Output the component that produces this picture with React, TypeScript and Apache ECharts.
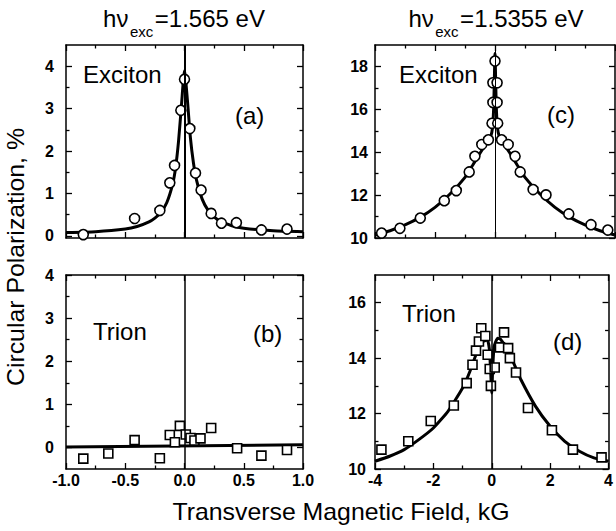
import React, { useEffect, useRef } from 'react';
import * as echarts from 'echarts';

const FONT = '"Liberation Sans", Arial, Helvetica, sans-serif';

// ---------- Panel (a): Exciton, hv = 1.565 eV ----------
const aX = [-0.854, -0.421, -0.208, -0.124, -0.084, -0.031, 0, 0.045, 0.093, 0.14, 0.225, 0.312, 0.438, 0.649, 0.865];
const aY = [0.03, 0.41, 0.6, 1.25, 1.66, 2.96, 3.69, 2.53, 1.48, 1.08, 0.53, 0.3, 0.31, 0.14, 0.16];
const aFitX = [-1, -0.75, -0.5, -0.4, -0.3, -0.25, -0.2, -0.15, -0.1, -0.075, -0.05, -0.025, 0, 0.025, 0.05, 0.075, 0.1, 0.15, 0.2, 0.25, 0.3, 0.4, 0.5, 0.75, 1];
const aFitY = [0.08, 0.1, 0.16, 0.22, 0.33, 0.42, 0.55, 0.78, 1.22, 1.61, 2.24, 3.1, 3.9, 3.18, 2.31, 1.73, 1.33, 0.86, 0.6, 0.45, 0.35, 0.24, 0.18, 0.12, 0.1];

// ---------- Panel (b): Trion, hv = 1.565 eV ----------
const bX = [-0.854, -0.643, -0.421, -0.208, -0.124, -0.081, -0.039, 0.011, 0.051, 0.084, 0.135, 0.225, 0.444, 0.649, 0.865];
const bY = [-0.26, -0.14, 0.17, -0.25, 0.29, 0.12, 0.5, 0.3, 0.22, 0.16, 0.21, 0.45, -0.02, -0.19, -0.06];
const bFitX = [-1, 1];
const bFitY = [0.01, 0.06];

// ---------- Panel (c): Exciton, hv = 1.5355 eV ----------
const cX = [-3.78, -3.17, -2.49, -1.69, -1.29, -0.86, -0.67, -0.44, -0.22, -0.1, -0.07, -0.07, 0, 0.07, 0.07, 0.09, 0.22, 0.44, 0.67, 0.84, 1.27, 1.7, 2.46, 3.2, 3.76];
const cY = [10.23, 10.45, 10.93, 11.74, 12.21, 13.08, 13.81, 14.36, 14.58, 15.35, 16.32, 17.24, 18.25, 17.24, 16.32, 15.35, 14.58, 14.36, 13.81, 13.08, 12.26, 12.01, 11.12, 10.62, 10.37];
const cFitX = [-4, -3.5, -3, -2.5, -2, -1.5, -1, -0.75, -0.5, -0.3, -0.15, -0.08, -0.04, 0, 0.04, 0.08, 0.15, 0.3, 0.5, 0.75, 1, 1.5, 2, 2.5, 3, 3.5, 4];
const cFitY = [10.14, 10.34, 10.61, 10.96, 11.43, 12.05, 12.83, 13.38, 13.95, 14.39, 14.7, 15.17, 16.26, 18.6, 16.26, 15.17, 14.7, 14.39, 13.95, 13.38, 12.83, 12.05, 11.43, 10.96, 10.61, 10.34, 10.14];

// ---------- Panel (d): Trion, hv = 1.5355 eV ----------
const dX = [-3.78, -2.86, -2.09, -1.3, -0.86, -0.66, -0.54, -0.44, -0.36, -0.22, -0.14, -0.07, -0.03, 0.1, 0.28, 0.42, 0.56, 0.62, 0.83, 1.24, 2.06, 2.78, 3.76];
const dY = [10.7, 11.0, 11.73, 12.29, 13.1, 13.76, 14.27, 14.6, 15.08, 14.8, 14.12, 13.61, 13.0, 13.66, 14.39, 14.93, 14.36, 14.0, 13.48, 12.2, 11.4, 10.7, 10.42];
const dFitX = [-4, -3.5, -3, -2.5, -2, -1.5, -1, -0.75, -0.5, -0.3, -0.15, -0.08, -0.03, 0, 0.03, 0.08, 0.2, 0.3, 0.5, 0.75, 1, 1.5, 2, 2.5, 3, 3.5, 4];
const dFitY = [10.28, 10.46, 10.7, 11.06, 11.48, 12.08, 12.92, 13.52, 14.24, 14.6, 14.66, 14.3, 13.34, 12.74, 13.58, 14.42, 14.72, 14.68, 14.36, 13.82, 13.22, 12.26, 11.54, 11.0, 10.64, 10.4, 10.28];

// ---------- Ticks ----------
const smallXMajor = [-1, -0.5, 0, 0.5, 1];
const smallXMinor = [-0.75, -0.25, 0.25, 0.75];
const bigXMajor = [-4, -2, 0, 2, 4];
const bigXMinor = [-3, -1, 1, 3];
const abYMajor = [0, 1, 2, 3, 4];
const abYMinor = [0.5, 1.5, 2.5, 3.5];
const cYMajor = [10, 12, 14, 16, 18];
const cYMinor = [11, 13, 15, 17];
const dYMajor = [10, 12, 14, 16];
const dYMinor = [11, 13, 15];

const titles = [
  { main: 'hν', sub: 'exc', rest: '=1.565 eV' },
  { main: 'hν', sub: 'exc', rest: '=1.5355 eV' },
];

function measure(text: string, size: number, weight = 'normal') {
  const c = document.createElement('canvas').getContext('2d')!;
  c.font = `${weight} ${size}px ${FONT}`;
  return c.measureText(text).width;
}

export default function App() {
  const ref = useRef<HTMLDivElement>(null);
  useEffect(() => {
    const chart = echarts.init(ref.current!, null, { renderer: 'svg' });

    const grids = [
      { left: 66, top: 45, width: 237, height: 193 },
      { left: 66, top: 275, width: 237, height: 194 },
      { left: 375, top: 45, width: 240, height: 193 },
      { left: 375, top: 275, width: 240, height: 194 },
    ];

    const xAxes: any[] = [];
    const yAxes: any[] = [];

    const addAxes = (
      list: any[], gridIndex: number, isX: boolean, min: number, max: number,
      majors: number[], minors: number[], labels: number[] | null,
      fmt: (v: number) => string, margin: number
    ) => {
      const mainIdx = list.length;
      const posA = isX ? 'bottom' : 'left';
      const posB = isX ? 'top' : 'right';
      const mk = (pos: string, ticks: number[], len: number, showLine: boolean, lab: number[] | null) => ({
        type: 'value', gridIndex, min, max, position: pos,
        axisLine: { show: showLine, onZero: false, lineStyle: { color: '#000', width: 1.5 } },
        axisTick: { show: true, inside: true, length: len, customValues: ticks, lineStyle: { color: '#000', width: 1.3 } },
        axisLabel: lab
          ? { show: true, customValues: lab, formatter: fmt, margin, color: '#000', fontFamily: FONT, fontSize: 16, fontWeight: 'bold' }
          : { show: false },
        splitLine: { show: false },
        minorTick: { show: false },
        minorSplitLine: { show: false },
      });
      list.push(mk(posA, majors, 6, true, labels));
      list.push(mk(posB, majors, 6, true, null));
      list.push(mk(posA, minors, 3.5, false, null));
      list.push(mk(posB, minors, 3.5, false, null));
      return mainIdx;
    };

    const fmt1 = (v: number) => v.toFixed(1);
    const fmt0 = (v: number) => String(Math.round(v));

    const xi = [
      addAxes(xAxes, 0, true, -1, 1, smallXMajor, smallXMinor, null, fmt1, 3),
      addAxes(xAxes, 1, true, -1, 1, smallXMajor, smallXMinor, smallXMajor, fmt1, 3),
      addAxes(xAxes, 2, true, -4, 4, bigXMajor, bigXMinor, null, fmt0, 3),
      addAxes(xAxes, 3, true, -4, 4, bigXMajor, bigXMinor, bigXMajor, fmt0, 3),
    ];
    const yi = [
      addAxes(yAxes, 0, false, -0.05, 4.5, abYMajor, abYMinor, abYMajor, fmt0, 12),
      addAxes(yAxes, 1, false, -0.5, 4, abYMajor, abYMinor, abYMajor, fmt0, 12),
      addAxes(yAxes, 2, false, 10, 19, cYMajor, cYMinor, cYMajor, fmt0, 7),
      addAxes(yAxes, 3, false, 10, 17, dYMajor, dYMinor, dYMajor, fmt0, 9),
    ];

    const zip = (xs: number[], ys: number[]) => xs.map((x, i) => [x, ys[i]]);

    const fit = (g: number, xs: number[], ys: number[], zeroW: number, smooth: number) => ({
      type: 'line', xAxisIndex: xi[g], yAxisIndex: yi[g], data: zip(xs, ys),
      symbol: 'none', showSymbol: false, smooth, silent: true, z: 2,
      lineStyle: { color: '#000', width: 3 },
      markLine: {
        silent: true, symbol: 'none', label: { show: false },
        lineStyle: { color: '#000', width: zeroW, type: 'solid' },
        data: [{ xAxis: 0 }],
      },
    });
    const pts = (g: number, xs: number[], ys: number[], symbol: string, size: number) => ({
      type: 'scatter', xAxisIndex: xi[g], yAxisIndex: yi[g], data: zip(xs, ys),
      symbol, symbolSize: size, silent: true, z: 3, clip: false,
      itemStyle: { color: '#fff', borderColor: '#000', borderWidth: 1.6, opacity: 1 },
    });

    const txt = (text: string, x: number, y: number, size: number, align = 'left', extra: any = {}) => ({
      type: 'text', x, y, silent: true, ...extra,
      style: {
        text, fill: '#000', fontFamily: FONT, fontSize: size,
        align, textAlign: align, verticalAlign: 'middle', textVerticalAlign: 'middle',
      },
    });

    const graphics: any[] = [];
    const titleSize = 24;
    const subSize = 15;
    const titleCenter = [184, 496];
    titles.forEach((t, i) => {
      const w1 = measure(t.main, titleSize);
      const w2 = measure(t.sub, subSize);
      const w3 = measure(t.rest, titleSize);
      const gap = 1.5;
      const total = w1 + gap + w2 + gap + w3;
      const x0 = titleCenter[i] - total / 2;
      graphics.push(txt(t.main, x0, 18.6, titleSize));
      graphics.push(txt(t.sub, x0 + w1 + gap, 31, subSize));
      graphics.push(txt(t.rest, x0 + w1 + gap + w2 + gap, 18.6, titleSize));
    });

    graphics.push(txt('Exciton', 83, 74, 24));
    graphics.push(txt('(a)', 235, 115, 24));
    graphics.push(txt('Trion', 93, 331, 24));
    graphics.push(txt('(b)', 253, 333, 24));
    graphics.push(txt('Exciton', 399, 74, 24));
    graphics.push(txt('(c)', 547, 114, 24));
    graphics.push(txt('Trion', 402, 313, 24));
    graphics.push(txt('(d)', 553, 341, 24));

    graphics.push(txt('Transverse Magnetic Field, kG', 341, 512, 23, 'center', { scaleX: 1.08 }));
    graphics.push(txt('Circular Polarization, %', 16, 257, 23, 'center', { rotation: Math.PI / 2, scaleX: 1.08 }));

    chart.setOption({
      animation: false,
      backgroundColor: '#fff',
      grid: grids.map((g) => ({ ...g, containLabel: false })),
      xAxis: xAxes,
      yAxis: yAxes,
      series: [
        fit(0, aFitX, aFitY, 2, 0.2),
        pts(0, aX, aY, 'circle', 10),
        fit(1, bFitX, bFitY, 1.5, 0),
        pts(1, bX, bY, 'rect', 9),
        fit(2, cFitX, cFitY, 1, 0.15),
        pts(2, cX, cY, 'circle', 10),
        fit(3, dFitX, dFitY, 1.5, 0.15),
        pts(3, dX, dY, 'rect', 9),
      ],
      graphic: graphics,
    });
    return () => chart.dispose();
  }, []);
  return (
    <div
      ref={ref}
      style={{ position: 'absolute', left: 0, top: 0, width: 616, height: 531, background: '#fff' }}
    />
  );
}
